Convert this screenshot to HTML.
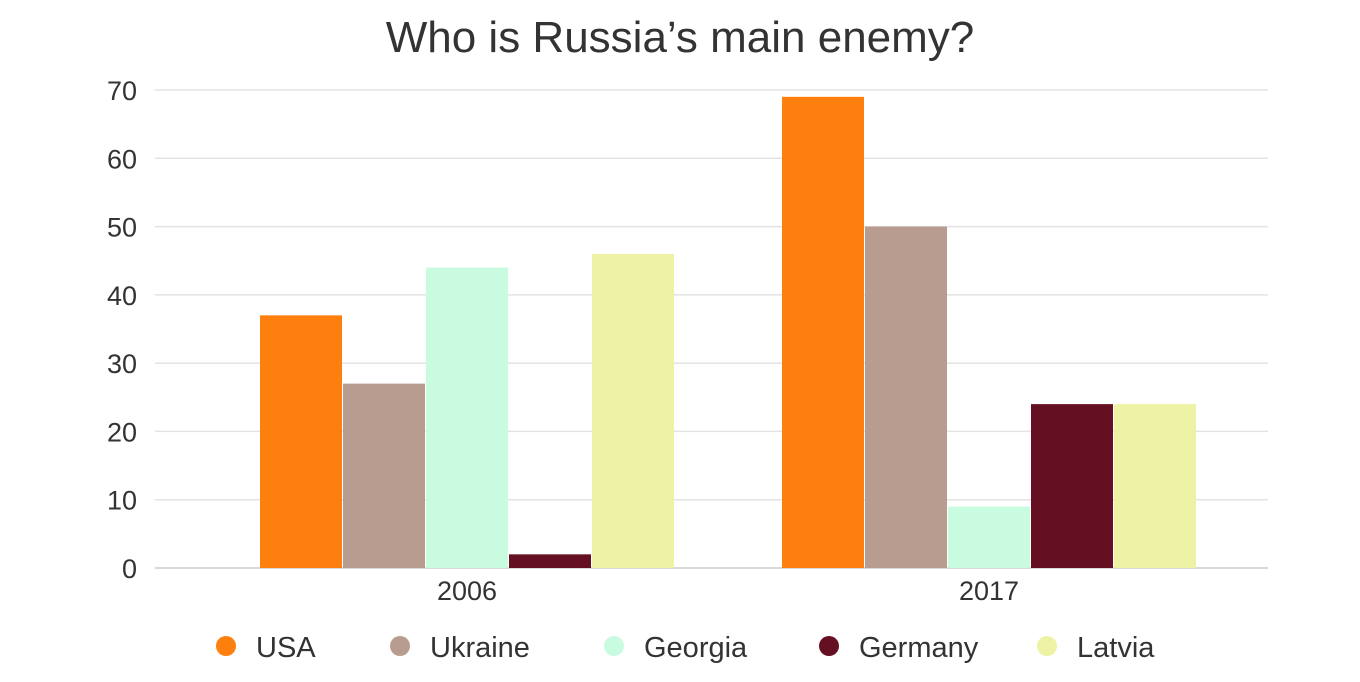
<!DOCTYPE html>
<html><head><meta charset="utf-8"><style>
body{margin:0;background:#fff;}
svg{display:block;font-family:"Liberation Sans",sans-serif;}
</style></head><body>
<svg id="chart" width="1360" height="682">
<text x="680" y="52" text-anchor="middle" font-size="44" fill="#333">Who is Russia’s main enemy?</text>
<g id="grid"></g><g id="bars"></g><g id="legend"></g>
</svg>
<script>
const categories = ["2006", "2017"];
const seriesNames = ["USA", "Ukraine", "Georgia", "Germany", "Latvia"];
const usaValues = [37, 69];
const ukraineValues = [27, 50];
const georgiaValues = [44, 9];
const germanyValues = [2, 24];
const latviaValues = [46, 24];
const yTicks = [0, 10, 20, 30, 40, 50, 60, 70];

const series = [usaValues, ukraineValues, georgiaValues, germanyValues, latviaValues];
const colors = ["#fd7f0e", "#b89c90", "#c8fbe0", "#640f22", "#eef2a4"];
const NS = "http://www.w3.org/2000/svg";
const y = v => 568 - v * (478 / 70);
const groupCenter = i => 467 + i * 522;
const barW = 83;
function mk(tag, attrs, parent) { const e = document.createElementNS(NS, tag); for (const k in attrs) e.setAttribute(k, attrs[k]); parent.appendChild(e); return e; }
const grid = document.getElementById("grid");
yTicks.forEach(t => {
  const l = mk("line", {x1: 155, x2: 1268, y1: y(t), y2: y(t), stroke: t === 0 ? "#ccc" : "#e3e3e3", "stroke-width": 1.5}, grid);
  
  
  const tx = mk("text", {x: 137, y: y(t) + 10, "text-anchor": "end", "font-size": 27, fill: "#333"}, grid);
  tx.textContent = t;
  
  
});
const bars = document.getElementById("bars");
categories.forEach((c, i) => {
  const cx = groupCenter(i);
  series.forEach((s, j) => {
    const x0 = cx - barW * 2.5 + j * barW;
    const r = mk("rect", {x: x0 + 0.5, y: y(s[i]), width: barW - 1, height: y(0) - y(s[i]), fill: colors[j]}, bars);
    
    
  });
  const t = mk("text", {x: cx, y: 600, "text-anchor": "middle", "font-size": 27, fill: "#333"}, bars);
  t.textContent = c;
  
  
});
const legend = document.getElementById("legend");
const lx = [226, 400, 614, 829, 1047];
seriesNames.forEach((n, j) => {
  const g = mk("g", {}, legend);
  
  
  mk("circle", {cx: lx[j], cy: 646, r: 10, fill: colors[j]}, g);
  const t = mk("text", {x: lx[j] + 30, y: 657, "font-size": 29, fill: "#333"}, g);
  t.textContent = n;
});
</script>
</body></html>
